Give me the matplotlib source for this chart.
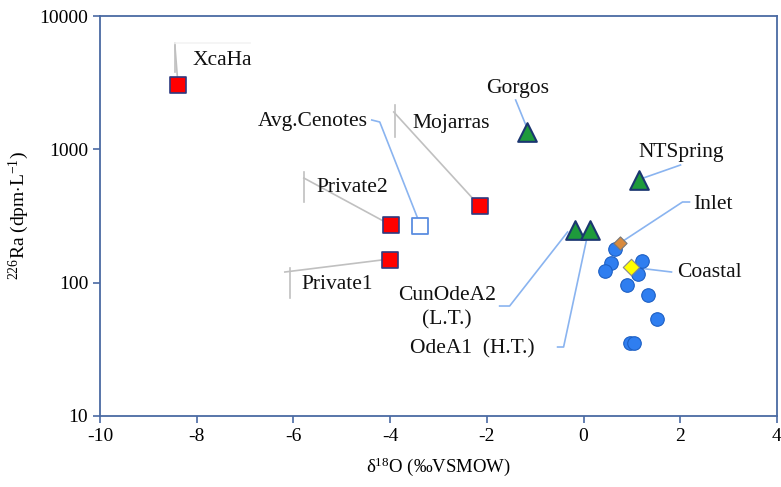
import matplotlib
matplotlib.use("Agg")
import matplotlib.pyplot as plt
import numpy as np
from matplotlib.ticker import FixedLocator, FixedFormatter, NullLocator

plt.rcParams['font.family'] = ['Liberation Serif', 'DejaVu Serif']
plt.rcParams['mathtext.fontset'] = 'custom'
plt.rcParams['mathtext.rm'] = 'Liberation Serif'
plt.rcParams['mathtext.it'] = 'Liberation Serif:italic'

# ---- data ----
sq_names = ["XcaHa", "Private2", "Private1", "Mojarras"]
sq_x = [-8.39, -3.99, -4.0, -2.15]
sq_y = [3050, 272, 148, 376]

avg_x = [-3.39]
avg_y = [268]

tri_names = ["Gorgos", "NTSpring", "CunOdeA2", "OdeA1"]
tri_x = [-1.16, 1.14, -0.17, 0.14]
tri_y = [1340, 585, 250, 250]

inlet_x = [0.76]
inlet_y = [198]
coastal_x = [0.99]
coastal_y = [131]

circ_x = [0.65, 0.57, 0.44, 1.21, 1.13, 0.89, 1.34, 1.52, 0.96, 1.05]
circ_y = [178, 141, 122, 145, 117, 96, 81, 53, 35, 35]

xticks = [-10, -8, -6, -4, -2, 0, 2, 4]
yticks = [10, 100, 1000, 10000]

# ---- figure ----
W, H = 781, 487
fig = plt.figure(figsize=(W / 100, H / 100), dpi=100)
ax = fig.add_axes([100 / W, 1 - 416 / H, 677 / W, 400 / H])
ax.set_xlim(-10, 4)
ax.set_ylim(10, 10000)
ax.set_yscale('log')

spine_c = '#4a6aa3'
for s in ax.spines.values():
    s.set_color(spine_c)
    s.set_linewidth(1.3)
ax.xaxis.set_major_locator(FixedLocator(xticks))
ax.set_xticklabels([str(t) for t in xticks])
ax.yaxis.set_major_locator(FixedLocator(yticks))
ax.yaxis.set_major_formatter(FixedFormatter([str(t) for t in yticks]))
ax.yaxis.set_minor_locator(NullLocator())
ax.tick_params(direction='out', length=5, width=1.2, color=spine_c,
               labelsize=14, top=False, right=False)

ax.set_xlabel(r'δ$^{18}$O (‰VSMOW)', fontsize=13.5, labelpad=8)
ax.set_ylabel(r'$^{226}$Ra (dpm$\cdot$L$^{-1}$)', fontsize=14, labelpad=6)


def px2d(px, py):
    x = (px - 584) / 48.4
    y = 10 ** (4 - (py - 16) / 133.33)
    return x, y


def leader(pts, color, lw=1.2):
    d = [px2d(*p) for p in pts]
    ax.plot([p[0] for p in d], [p[1] for p in d], color=color, lw=lw,
            zorder=2, clip_on=False)


gray = '#c0c0c0'
blue = '#8ab4f0'

# gray leaders (with small vertical ticks)
leader([(178, 84), (175, 46)], gray)
leader([(175, 43), (175, 72)], gray)
leader([(175, 43), (250, 43)], '#f3f3f3')
leader([(480, 206), (394, 112)], gray)
leader([(395, 105), (395, 137)], gray)
leader([(391, 225), (304, 178)], gray)
leader([(304, 172), (304, 202)], gray)
leader([(390, 259), (285, 272)], gray)
leader([(290, 268), (290, 298)], gray)

# blue leaders
leader([(372, 120), (380, 122), (419, 221)], blue)
leader([(516, 100), (527, 127)], blue)
leader([(641, 179), (681, 165)], blue)
leader([(622, 242), (683, 202), (690, 202)], blue)
leader([(636, 268), (647, 269), (672, 272)], blue)
leader([(500, 306), (510, 306), (568, 232)], blue)
leader([(558, 347), (564, 347), (588, 235)], blue)

# markers
ax.scatter(sq_x, sq_y, marker='s', s=120, c='#ff0000', edgecolors='#2e3a80',
           linewidths=1.2, zorder=4)
ax.scatter(avg_x, avg_y, marker='s', s=120, facecolors='white',
           edgecolors='#5b8de0', linewidths=1.3, zorder=4)
ax.scatter(tri_x, tri_y, marker='^', s=180, c='#1e9a3c', edgecolors='#1b3670',
           linewidths=1.5, zorder=4)
ax.scatter(circ_x, circ_y, marker='o', s=95, c='#2f7ef0', edgecolors='#1c5fc4',
           linewidths=0.8, zorder=3)
ax.scatter(inlet_x, inlet_y, marker='D', s=45, c='#d98a3c', edgecolors='#777777',
           linewidths=0.8, zorder=5)
ax.scatter(coastal_x, coastal_y, marker='D', s=70, c='#ffff00', edgecolors='#888888',
           linewidths=0.8, zorder=5)

# labels
def label(text, px, py, ha='center', va='center'):
    x, y = px2d(px, py)
    ax.text(x, y, text, ha=ha, va=va, fontsize=15.5, zorder=6, color='#111111')

label("XcaHa", 222, 60)
label("Mojarras", 451, 123)
label("Private2", 352, 187)
label("Private1", 337, 284)
label("Avg.Cenotes", 368, 121, ha='right')
label("Gorgos", 518, 88)
label("NTSpring", 682, 152)
label("Inlet", 694, 204, ha='left')
label("Coastal", 678, 272, ha='left')
label("CunOdeA2", 447, 295)
label("(L.T.)", 447, 320)
label("OdeA1  (H.T.)", 473, 349)

fig.savefig("out.png", dpi=100)
